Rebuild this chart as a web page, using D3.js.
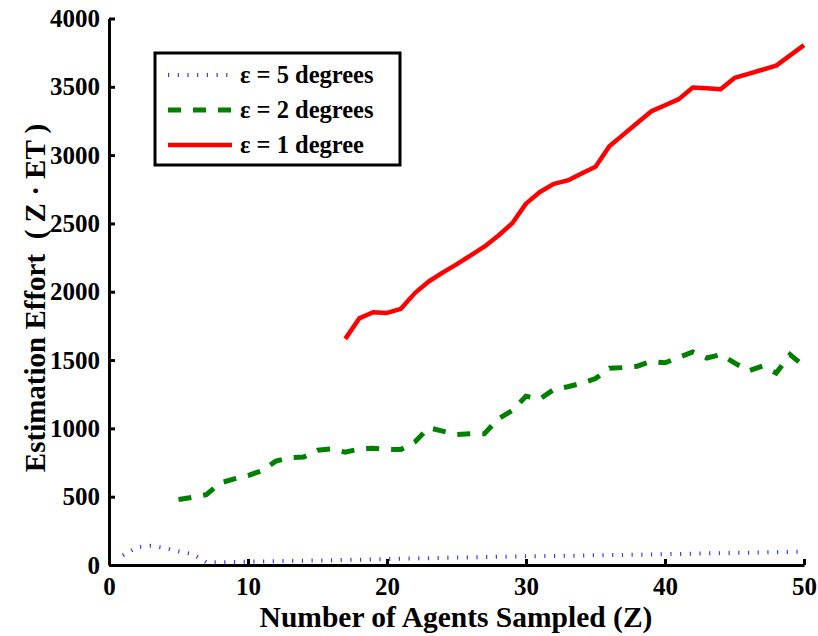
<!DOCTYPE html>
<html><head><meta charset="utf-8">
<script src="https://cdn.jsdelivr.net/npm/d3@7"></script>
<style>
body{margin:0;background:#fff;}
text{font-family:"Liberation Serif","Times New Roman",serif;font-weight:bold;fill:#000;}
</style></head>
<body><svg id="c" width="818" height="636"></svg>
<script>
const blueZ = d3.range(1, 51);
const blueVals = [70,130,140,125,100,80,20,20,22,24,26,28,30,31,33,35,37,39,41,44,46,48,50,52,54,56,58,60,62,64,65,66,68,69,71,72,74,75,77,79,81,83,85,87,89,90,92,94,96,98];
const greenZ = d3.range(5, 51);
const greenVals = [480,495,515,600,630,655,690,760,785,790,840,850,825,850,855,845,845,900,1005,980,955,960,960,1070,1130,1235,1215,1285,1305,1330,1365,1440,1445,1455,1490,1480,1520,1560,1515,1540,1480,1420,1455,1405,1540,1455];
const redZ = d3.range(17, 51);
const redVals = [1655,1805,1850,1845,1875,1990,2075,2140,2200,2265,2330,2410,2500,2645,2730,2790,2815,2865,2915,3065,3150,3235,3320,3365,3410,3495,3490,3482,3565,3595,3625,3655,3730,3805];
const xTicks = [0,10,20,30,40,50];
const yTicks = [0,500,1000,1500,2000,2500,3000,3500,4000];
const legendLabels = ["\u03b5 = 5 degrees","\u03b5 = 2 degrees","\u03b5 = 1 degree"];

const svg = d3.select("#c");
const x = d3.scaleLinear().domain([0,50]).range([109,804]);
const y = d3.scaleLinear().domain([0,4000]).range([565,18.5]);

function series(zs, vals){ return zs.map((z,i)=>[z, vals[i]]); }
const line = d3.line().x(d=>x(d[0])).y(d=>y(d[1]));

svg.append("path").datum(series(blueZ, blueVals)).attr("d", line)
  .attr("fill","none").attr("stroke","#3a3aff").attr("stroke-width",4).attr("stroke-dasharray","1.2,8.5");
svg.append("path").datum(series(greenZ, greenVals)).attr("d", line)
  .attr("fill","none").attr("stroke","#008000").attr("stroke-width",5).attr("stroke-dasharray","13,12");
svg.append("path").datum(series(redZ, redVals)).attr("d", line)
  .attr("fill","none").attr("stroke","#ff0000").attr("stroke-width",4.5).attr("stroke-linejoin","round");

// axes
const gx = svg.append("g").attr("transform",`translate(0,565)`)
  .call(d3.axisBottom(x).tickValues(xTicks).tickSizeInner(-6).tickSizeOuter(0).tickPadding(12).tickFormat(d3.format("d")));
const gy = svg.append("g").attr("transform",`translate(109,0)`)
  .call(d3.axisLeft(y).tickValues(yTicks).tickSizeInner(-6).tickSizeOuter(0).tickPadding(9).tickFormat(d3.format("d")));
[gx,gy].forEach(g=>{
  g.select(".domain").attr("stroke","#000").attr("stroke-width",3);
  g.selectAll(".tick line").attr("stroke","#000").attr("stroke-width",3);
  g.selectAll(".tick text").attr("font-size",25).attr("font-family","Liberation Serif").attr("font-weight","bold").attr("fill","#000");
});

// axis titles
svg.append("text").attr("x",456).attr("y",627).attr("text-anchor","middle")
  .attr("font-size",29.5).text("Number of Agents Sampled (Z)");
svg.append("text").attr("transform",`translate(45,298) rotate(-90)`).attr("text-anchor","middle")
  .attr("font-size",29).attr("xml:space","preserve").style("white-space","pre").text("Estimation Effort  ( Z \u00b7 ET )");

// legend
const lg = svg.append("g");
lg.append("rect").attr("x",155).attr("y",53).attr("width",245).attr("height",112)
  .attr("fill","#fff").attr("stroke","#000").attr("stroke-width",3);
const styles = [
  {c:"#3a3aff",w:4,d:"1.2,8.5"},
  {c:"#008000",w:5,d:"13,12"},
  {c:"#ff0000",w:4.5,d:null}
];
const ly = [75,110,145];
legendLabels.forEach((lab,i)=>{
  const l = lg.append("line").attr("x1",168).attr("x2",232).attr("y1",ly[i]).attr("y2",ly[i])
    .attr("stroke",styles[i].c).attr("stroke-width",styles[i].w);
  if(styles[i].d) l.attr("stroke-dasharray",styles[i].d);
  lg.append("text").attr("x",240).attr("y",ly[i]+8).attr("font-size",24.5).text(lab);
});
</script></body></html>
